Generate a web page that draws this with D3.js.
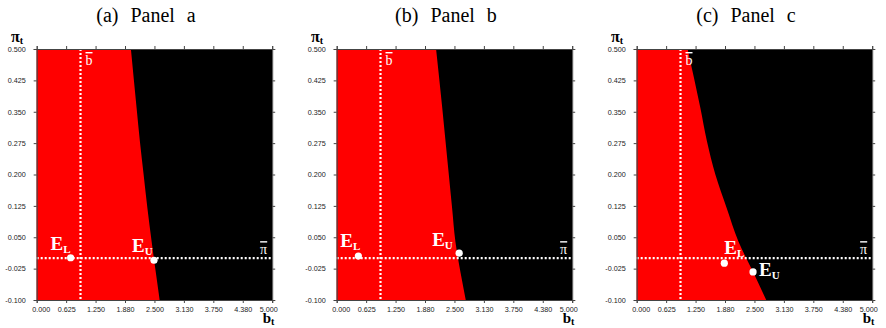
<!DOCTYPE html>
<html>
<head>
<meta charset="utf-8">
<script src="https://cdn.jsdelivr.net/npm/d3@7"></script>
<style>
  body { margin: 0; background: #fff; }
  svg { display: block; }
</style>
</head>
<body>
<div id="chart"></div>
<script>
// tick values and the labels printed under them
var xTicks = [0, 0.625, 1.25, 1.875, 2.5, 3.125, 3.75, 4.375, 5];
var xTickLabels = ["0.000", "0.625", "1.250", "1.880", "2.500", "3.130", "3.750", "4.380", "5.000"];
var yTicks = [-0.1, -0.025, 0.05, 0.125, 0.2, 0.275, 0.35, 0.425, 0.5];
var yTickLabels = ["-0.100", "-0.025", "0.050", "0.125", "0.200", "0.275", "0.350", "0.425", "0.500"];

var panelTitles = ["(a) Panel a", "(b) Panel b", "(c) Panel c"];

// reference levels (dotted lines)
var bBar = 0.93;
var piBar = 0.0;

// red / black boundary: b value reached at each pi level
var boundaryPi = [0.5, 0.36, 0.28, 0.2, 0.12, 0.04, -0.035, -0.1];
var boundaryA  = [2.00, 2.12, 2.19, 2.27, 2.35, 2.44, 2.53, 2.61];
var boundaryB  = [2.11, 2.24, 2.31, 2.38, 2.45, 2.52, 2.63, 2.74];
var boundaryC  = [1.08, 1.35, 1.49, 1.67, 1.91, 2.16, 2.48, 2.75];

// equilibria E_L and E_U per panel
var eqLB  = [0.72, 0.46, 1.86];
var eqLPi = [0.001, 0.005, -0.012];
var eqUB  = [2.49, 2.60, 2.47];
var eqUPi = [-0.005, 0.012, -0.033];

var boundaries = [boundaryA, boundaryB, boundaryC];

// label offsets (px) from each point
var labelOffL = [[-20, -8], [-18, -9], [0, -9]];
var labelOffU = [[-22, -8], [-27, -7], [6, 4]];

var W = 886, H = 328;
var plotLeft = 36.7, plotTop = 49, plotW = 235.5, plotH = 251, panelStep = 300;
var serif = "'Liberation Serif', serif";

var svg = d3.select("#chart").append("svg")
  .attr("width", W)
  .attr("height", H);

panelTitles.forEach(function(title, i) {
  var left = plotLeft + i * panelStep;
  var g = svg.append("g")
    .attr("transform", "translate(" + left + "," + plotTop + ")");

  var x = d3.scaleLinear().domain([0, 5]).range([0, plotW]);
  var y = d3.scaleLinear().domain([-0.1, 0.5]).range([plotH, 0]);

  // black background, red region left of the boundary
  g.append("rect")
    .attr("width", plotW).attr("height", plotH)
    .attr("fill", "#000");

  var bd = boundaryPi.map(function(p, k) { return {pi: p, b: boundaries[i][k]}; });
  var area = d3.area()
    .curve(d3.curveMonotoneY)
    .y(function(d) { return y(d.pi); })
    .x0(x(0))
    .x1(function(d) { return x(d.b); });
  g.append("path")
    .datum(bd)
    .attr("d", area)
    .attr("fill", "#ff0000");

  // dotted reference lines
  g.append("line")
    .attr("x1", x(bBar)).attr("x2", x(bBar))
    .attr("y1", 0).attr("y2", plotH)
    .attr("stroke", "#fff").attr("stroke-width", 2.2)
    .attr("stroke-dasharray", "2,2");
  g.append("line")
    .attr("x1", 0).attr("x2", plotW)
    .attr("y1", y(piBar)).attr("y2", y(piBar))
    .attr("stroke", "#fff").attr("stroke-width", 2.2)
    .attr("stroke-dasharray", "2,2");

  g.append("text")
    .attr("x", x(bBar) + 5).attr("y", 16)
    .attr("fill", "#fff")
    .attr("font-family", serif)
    .attr("font-size", 14)
    .style("text-decoration", "overline")
    .text("b");
  g.append("text")
    .attr("x", x(5) - 5).attr("y", y(piBar) - 4)
    .attr("text-anchor", "end")
    .attr("fill", "#fff")
    .attr("font-family", serif)
    .attr("font-size", 14)
    .style("text-decoration", "overline")
    .text("\u03c0");

  // axes on all four sides
  var fmtX = function(d, k) { return xTickLabels[k]; };
  var fmtY = function(d, k) { return yTickLabels[k]; };

  var axB = g.append("g").attr("transform", "translate(0," + plotH + ")")
    .call(d3.axisBottom(x).tickValues(xTicks).tickFormat(fmtX).tickSizeOuter(0).tickSize(3).tickPadding(4));
  var axT = g.append("g")
    .call(d3.axisTop(x).tickValues(xTicks).tickFormat("").tickSizeOuter(0).tickSize(3));
  var axL = g.append("g")
    .call(d3.axisLeft(y).tickValues(yTicks).tickFormat(fmtY).tickSizeOuter(0).tickSize(3).tickPadding(8));
  var axR = g.append("g").attr("transform", "translate(" + plotW + ",0)")
    .call(d3.axisRight(y).tickValues(yTicks).tickFormat("").tickSizeOuter(0).tickSize(3));

  [axB, axT, axL, axR].forEach(function(a) {
    a.attr("font-family", "'Liberation Sans', Arial, sans-serif").attr("font-size", 7.2);
    a.selectAll("path, line").attr("stroke", "#444");
    a.selectAll("text").attr("fill", "#222");
  });
  // first and last x labels sit a little inward
  axB.selectAll(".tick text")
    .attr("dx", function(d, k) { return k === 0 ? 4 : (k === xTicks.length - 1 ? -4 : 0); });

  // equilibrium points
  var pts = [
    {b: eqLB[i], pi: eqLPi[i], sub: "L", off: labelOffL[i]},
    {b: eqUB[i], pi: eqUPi[i], sub: "U", off: labelOffU[i]}
  ];
  pts.forEach(function(p) {
    g.append("circle")
      .attr("cx", x(p.b)).attr("cy", y(p.pi))
      .attr("r", 3.6)
      .attr("fill", "#fff");
    var t = g.append("text")
      .attr("x", x(p.b) + p.off[0]).attr("y", y(p.pi) + p.off[1])
      .attr("fill", "#fff")
      .attr("font-family", serif)
      .attr("font-weight", "bold")
      .attr("font-size", 19);
    t.append("tspan").text("E");
    t.append("tspan").attr("dy", 3).attr("font-size", 11).text(p.sub);
  });

  // panel title
  svg.append("text")
    .attr("x", left + 109.3).attr("y", 22)
    .attr("text-anchor", "middle")
    .attr("font-family", serif)
    .attr("font-size", 20)
    .style("word-spacing", "7px")
    .text(title);

  // axis names
  var pl = svg.append("text")
    .attr("x", left - 25.7).attr("y", 42)
    .attr("font-family", serif)
    .attr("font-weight", "bold")
    .attr("font-size", 16);
  pl.append("tspan").text("\u03c0");
  pl.append("tspan").attr("dy", 1.5).attr("font-size", 10).text("t");

  var bl = svg.append("text")
    .attr("x", left + 226).attr("y", 323)
    .attr("font-family", serif)
    .attr("font-weight", "bold")
    .attr("font-size", 15);
  bl.append("tspan").text("b");
  bl.append("tspan").attr("dy", 2).attr("font-size", 10).text("t");
});
</script>
</body>
</html>
